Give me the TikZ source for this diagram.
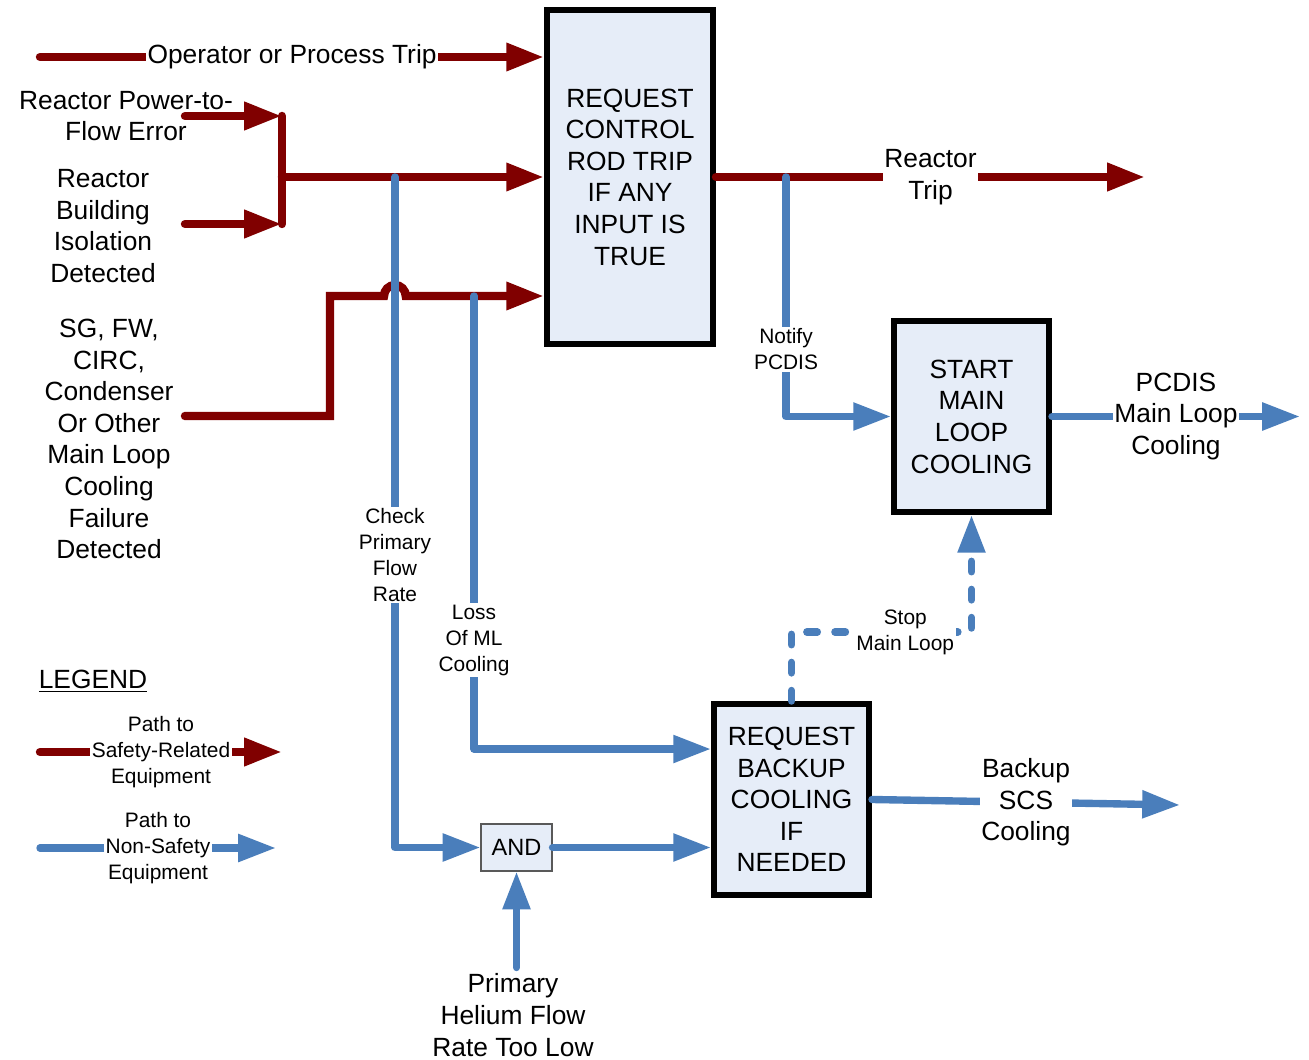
\documentclass[tikz,border=0pt]{standalone}
\usepackage{fontspec}
\setmainfont{Liberation Sans}
\usetikzlibrary{arrows.meta}
\definecolor{safered}{RGB}{128,0,0}
\definecolor{pathblue}{RGB}{74,126,187}
\definecolor{boxfill}{RGB}{230,237,248}
\begin{document}
\begin{tikzpicture}[x=0.02cm, y=-0.02cm,
    >={Triangle[length=21.5pt, width=15pt]},
    big/.style={font=\fontsize{15}{18}\selectfont, align=center},
    small/.style={font=\fontsize{11.9}{14.7}\selectfont, align=center},
    gap/.style={fill=white, inner sep=1pt},
    safety/.style={draw=safered, line width=4.8pt, line cap=round},
    nonsafety/.style={draw=pathblue, line width=4.2pt, line cap=round, line join=round},
    logic/.style={draw, line width=3.4pt, fill=boxfill, big, inner sep=0pt}]
  \useasboundingbox (0,0) rectangle (1309,1060);

  % logic blocks
  \node [logic, minimum width=3.32cm, minimum height=6.68cm] (rod-trip) at (630,177)
    {REQUEST\\CONTROL\\ROD TRIP\\IF ANY\\INPUT IS\\TRUE};
  \node [logic, minimum width=3.1cm, minimum height=3.82cm] (start-loop) at (971.5,416.5)
    {START\\MAIN\\LOOP\\COOLING};
  \node [logic, minimum width=3.1cm, minimum height=3.82cm] (backup) at (791.5,799.5)
    {REQUEST\\BACKUP\\COOLING\\IF\\NEEDED};
  \node [draw=gray!70!black, line width=0.6pt, fill=boxfill, minimum width=1.42cm,
    minimum height=0.94cm, font=\fontsize{13.4}{16}\selectfont] (and-gate) at (516.5,847.5) {AND};

  % inputs
  \node [big] (power-flow) at (126,116) {Reactor Power-to-\\Flow Error};
  \node [big] (building) at (103,226) {Reactor\\Building\\Isolation\\Detected};
  \node [big] (main-loop) at (109,439)
    {SG, FW,\\CIRC,\\Condenser\\Or Other\\Main Loop\\Cooling\\Failure\\Detected};
  \node [big] (helium) at (513,1015) {Primary\\Helium Flow\\Rate Too Low};

  \foreach \n/\y in {power-flow/116, building/224, main-loop/416}
    \coordinate (\n-out) at (185,\y);
  \coordinate (operator-out) at (40,57);
  \coordinate (merge) at (282,177);
  \coordinate (bend) at (330,296);
  \coordinate (hop) at (384,296);
  \coordinate (flow-tap) at (395,177);
  \coordinate (loss-tap) at (474,296);
  \coordinate (trip-tap) at (786,177);
  \coordinate (trip-end) at (1145,177);
  \coordinate (pcdis-end) at (1300,416.5);
  \coordinate (scs-end) at (1180,805);
  \coordinate (stop-turn) at (971.5,632);
  \path (backup.north west) ++(0,48) coordinate (loss-in);

  % safety-related paths
  \draw [safety, ->] (operator-out) -- (operator-out -| rod-trip.west)
    node [midway, gap, big] (operator) {Operator or Process Trip};
  \foreach \n in {power-flow, building}
    \draw [safety, ->] (\n-out) -- (\n-out -| merge);
  \draw [safety] (merge |- power-flow-out) -- (merge |- building-out);
  \draw [safety, ->] (merge) -- (merge -| rod-trip.west);
  \draw [safety, ->] (main-loop-out) -| (bend) -- (hop)
    arc [start angle=180, end angle=0, radius=6.2pt] -- (bend -| rod-trip.west);
  \draw [safety, ->] (rod-trip.east) -- (trip-end)
    node [midway, gap, big] (trip) {Reactor\\Trip};

  % non-safety paths
  \draw [nonsafety, ->] (flow-tap) |- (and-gate.west)
    node [pos=0.282, gap, small] (check) {Check\\Primary\\Flow\\Rate};
  \draw [nonsafety, ->] (loss-tap) |- (loss-in)
    node [pos=0.38, gap, small] (loss) {Loss\\Of ML\\Cooling};
  \draw [nonsafety, ->] (and-gate.east) -- (and-gate.east -| backup.west);
  \draw [nonsafety, ->] (helium.north -| and-gate.south) -- (and-gate.south);
  \draw [nonsafety, ->] (trip-tap) |- (start-loop.west)
    node [pos=0.36, gap, small] (notify) {Notify\\PCDIS};
  \draw [nonsafety, ->] (start-loop.east) -- (pcdis-end)
    node [midway, gap, big] (pcdis) {PCDIS\\Main Loop\\Cooling};
  \draw [nonsafety, ->] (backup.east) -- (scs-end)
    node [midway, gap, big] (scs) {Backup\\SCS\\Cooling};
  \draw [nonsafety, dash pattern=on 6pt off 10pt, ->] (backup.north) |- (stop-turn)
    node [pos=0.816, gap, small] (stop) {Stop\\Main Loop} -- (start-loop.south);

  % legend
  \node [big] (legend) at (93,681) {\underline{LEGEND}};
  \coordinate (safe-key) at (40,752);
  \coordinate (safe-key-end) at (282,752);
  \coordinate (nonsafe-key) at (40,848);
  \coordinate (nonsafe-key-end) at (276,848);
  \draw [safety, ->] (safe-key) -- (safe-key-end)
    node [midway, gap, small] (safe-label) {Path to\\Safety-Related\\Equipment};
  \draw [nonsafety, ->] (nonsafe-key) -- (nonsafe-key-end)
    node [midway, gap, small] (nonsafe-label) {Path to\\Non-Safety\\Equipment};
\end{tikzpicture}
\end{document}
